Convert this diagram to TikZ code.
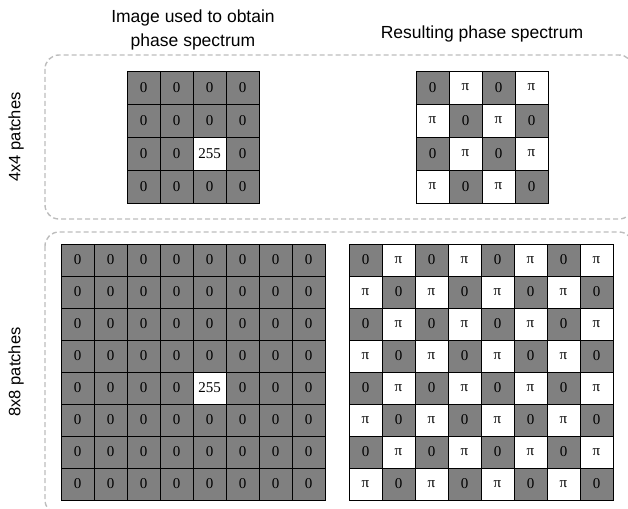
\documentclass[tikz,border=0pt]{standalone}
\usepackage{fontspec}
\setmainfont{Liberation Serif}
\newfontfamily\labelfont{Liberation Sans}
\definecolor{cellgray}{HTML}{808080}
\definecolor{dashgray}{HTML}{BDBDBD}
\tikzset{
  cellbase/.style={draw=black, line width=0.9pt, inner sep=0pt, minimum width=33pt,
    font=\fontsize{15}{15}\selectfont},
  cellg/.style={cellbase, fill=cellgray},
  cellw/.style={cellbase, fill=white},
  bigrow/.style={minimum height=33pt},
  smallrow/.style={minimum height=32pt},
  dashbox/.style={draw=dashgray, line width=1.4pt, dash pattern=on 5pt off 3pt, rounded corners=14pt},
  head/.style={font=\labelfont\fontsize{17.5}{24}\selectfont, align=center, inner sep=0pt},
  side/.style={font=\labelfont\fontsize{16.5}{18}\selectfont, rotate=90, inner sep=0pt}
}
\begin{document}
\begin{tikzpicture}[x=1pt,y=-1pt]
\clip (0,0) rectangle (628,508);
% dashed group boxes
\draw[dashbox] (45,55) rectangle (633,219);
\draw[dashbox] (45,232) rectangle (633,514);
% headers
\node[head] (h1) at (193,30) {Image used to obtain\\phase spectrum};
\node[head] (h2) at (482,34) {Resulting phase spectrum};
% side labels
\node[side] (s1) at (16,137) {4x4 patches};
\node[side] (s2) at (16,372) {8x8 patches};
% 4x4 input
\foreach \i in {0,...,3}{\foreach \j in {0,...,3}{
  \ifnum\numexpr\i*10+\j\relax=22
    \node[cellw,bigrow] (a\i\j) at ({143.5+33*\j},{87.5+33*\i}) {255};
  \else
    \node[cellg,bigrow] (a\i\j) at ({143.5+33*\j},{87.5+33*\i}) {0};
  \fi
}}
% 4x4 phase
\foreach \i in {0,...,3}{\foreach \j in {0,...,3}{
  \ifodd\numexpr\i+\j\relax
    \node[cellw,bigrow] (b\i\j) at ({432.5+33*\j},{87.5+33*\i}) {π};
  \else
    \node[cellg,bigrow] (b\i\j) at ({432.5+33*\j},{87.5+33*\i}) {0};
  \fi
}}
% 8x8 input
\foreach \i in {0,...,7}{\foreach \j in {0,...,7}{
  \ifnum\numexpr\i*10+\j\relax=44
    \node[cellw,smallrow] (c\i\j) at ({77.5+33*\j},{260+32*\i}) {255};
  \else
    \node[cellg,smallrow] (c\i\j) at ({77.5+33*\j},{260+32*\i}) {0};
  \fi
}}
% 8x8 phase
\foreach \i in {0,...,7}{\foreach \j in {0,...,7}{
  \ifodd\numexpr\i+\j\relax
    \node[cellw,smallrow] (d\i\j) at ({365.5+33*\j},{260+32*\i}) {π};
  \else
    \node[cellg,smallrow] (d\i\j) at ({365.5+33*\j},{260+32*\i}) {0};
  \fi
}}
\end{tikzpicture}
\end{document}
